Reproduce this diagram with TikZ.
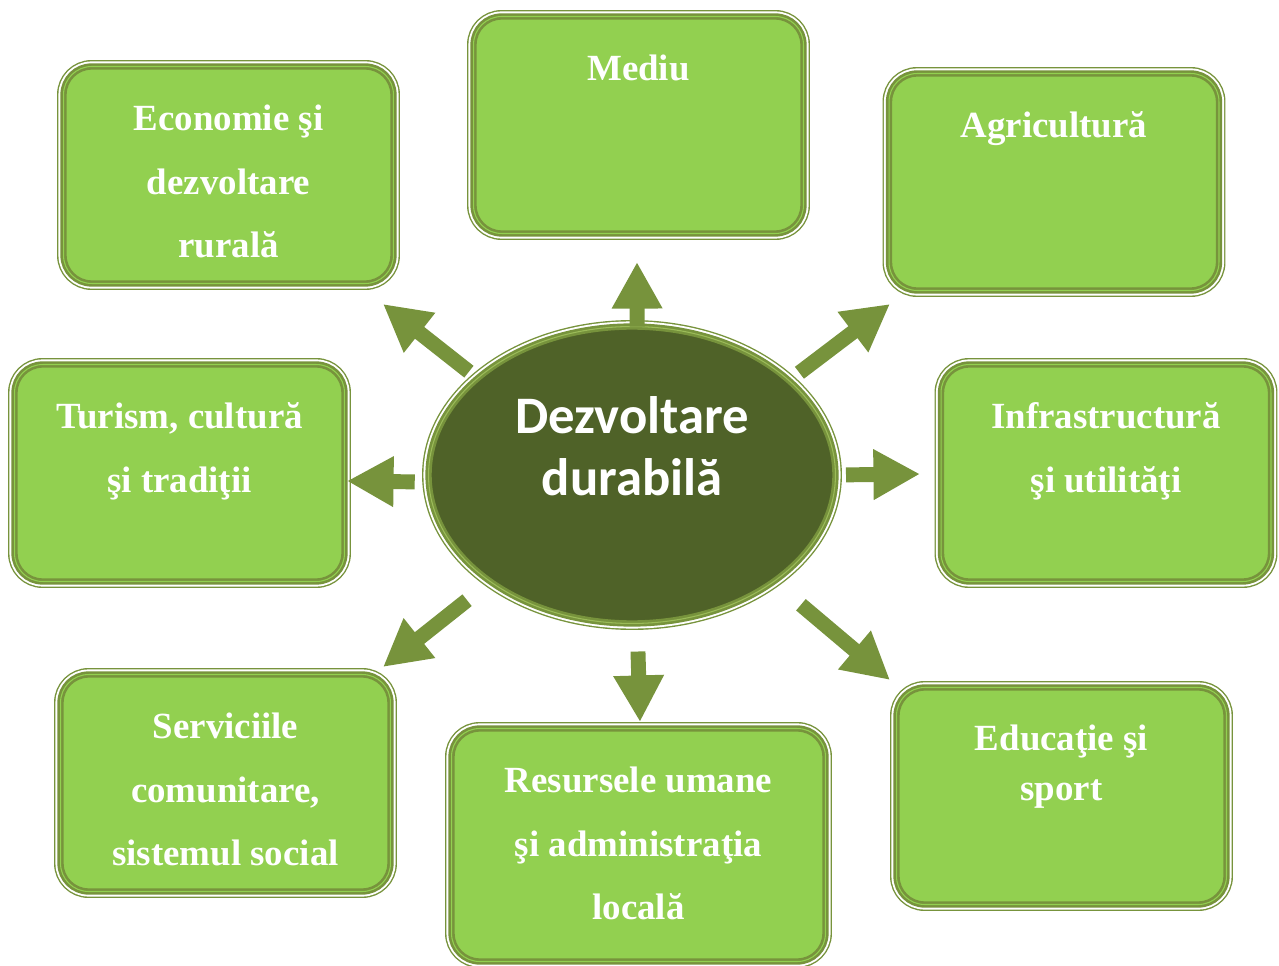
\documentclass[tikz,border=0pt]{standalone}
\usepackage{fontspec}
\setmainfont{Liberation Serif}
\newfontfamily\corefont{Carlito}
\usetikzlibrary{shapes.geometric,arrows.meta,positioning}
\definecolor{boxgreen}{HTML}{92D050}
\definecolor{bandgreen}{HTML}{77933C}
\definecolor{coregreen}{HTML}{4F6228}
\definecolor{ringgreen}{HTML}{9BBB59}
\tikzset{
  framed/.style={preaction={draw=bandgreen, line width=0.8pt, double=white, double distance=5.8pt},
    draw=bandgreen, line width=1.5pt, double=#1, double distance=0.6pt, outer sep=0pt},
  catbox/.style={framed=boxgreen, rectangle, rounded corners=16pt, fill=boxgreen,
    minimum width=6.6cm, minimum height=4.34cm},
  cattext/.style={text=white, align=center, inner sep=0pt, font=\fontsize{21}{36.3}\selectfont\bfseries},
  core/.style={framed=ringgreen, ellipse, fill=coregreen, minimum width=8.14cm, minimum height=5.94cm},
  coretext/.style={text=white, align=center, inner sep=0pt, font=\corefont\fontsize{30}{35.7}\selectfont\bfseries},
  blockarr/.style={draw=bandgreen, line width=8.5pt, -{Triangle[width=27pt,length=26.5pt]}}
}
\begin{document}
\begin{tikzpicture}[x=0.02cm, y=-0.02cm]
	\useasboundingbox (0,0) rectangle (1279,966);
	
	% centre
	\node[core] (ctr) at (632,475) {};
	\node[coretext, below=39.5pt of ctr.north] (ctr-t) {Dezvoltare\\durabilă};
	
	% domains
	\node[catbox] (econ) at (228.5,175) {};
	\node[catbox] (mediu) at (638.5,125) {};
	\node[catbox] (agri) at (1054,182) {};
	\node[catbox] (turism) at (179.5,473) {};
	\node[catbox] (infra) at (1106,473) {};
	\node[catbox] (serv) at (225.5,783) {};
	\node[catbox, minimum width=7.48cm, minimum height=4.66cm] (res) at (638.5,845) {};
	\node[catbox] (edu) at (1061.5,796) {};
	
	\node[cattext, below=21.5pt of econ.north] (econ-t) {Economie şi\\dezvoltare\\rurală};
	\node[cattext, below=21.5pt of mediu.north] (mediu-t) {Mediu};
	\node[cattext, below=21.5pt of agri.north] (agri-t) {Agricultură};
	\node[cattext, below=21.5pt of turism.north] (turism-t) {Turism, cultură\\şi tradiţii};
	\node[cattext, below=21.5pt of infra.north] (infra-t) {Infrastructură\\şi utilităţi};
	\node[cattext, below=21.5pt of serv.north] (serv-t) {Serviciile\\comunitare,\\sistemul social};
	\node[cattext, below=21.5pt of res.north] (res-t) {Resursele umane\\şi administraţia\\locală};
	\node[cattext, font=\fontsize{21}{28.4}\selectfont\bfseries, below=21pt of edu.north] (edu-t) {Educaţie şi\\sport};
	
	% arrow tips
	\coordinate (a-mediu) at (637,262);
	\coordinate (a-econ) at (383,304);
	\coordinate (a-agri) at (890,304);
	\coordinate (a-turism) at (347,481);
	\coordinate (a-infra) at (920,474);
	\coordinate (a-serv) at (383,667);
	\coordinate (a-res) at (640,722);
	\coordinate (a-edu) at (890,680);
	
	\draw[blockarr] (ctr.88) -- (a-mediu);
	\draw[blockarr, shorten <=6.2pt] (ctr.148) -- (a-econ);
	\draw[blockarr, shorten <=7.4pt] (ctr.31) -- (a-agri);
	\draw[blockarr, shorten <=8pt] (ctr.182) -- (a-turism);
	\draw[blockarr, shorten <=6pt] (ctr.0) -- (a-infra);
	\draw[blockarr, shorten <=17pt] (ctr.217.7) -- (a-serv);
	\draw[blockarr, shorten <=16pt] (ctr.272.6) -- (a-res);
	\draw[blockarr, shorten <=20.4pt] (ctr.323.8) -- (a-edu);
\end{tikzpicture}
\end{document}
